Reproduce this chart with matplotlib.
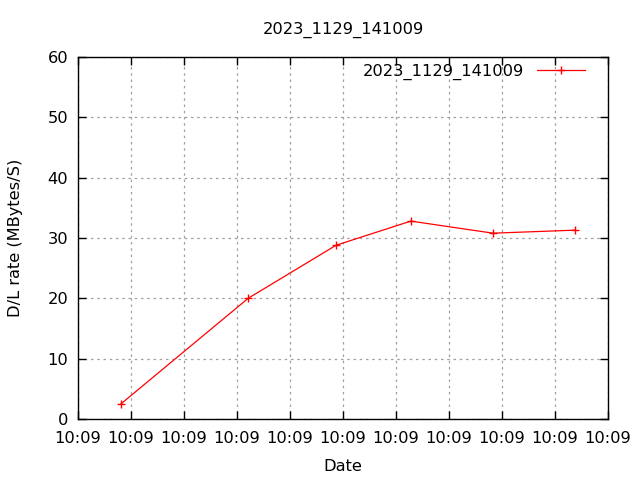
import matplotlib
matplotlib.use("Agg")
import matplotlib.pyplot as plt

title = "2023_1129_141009"
series_name = "2023_1129_141009"
x_values = [0.81, 3.21, 4.87, 6.28, 7.83, 9.38]
y_values = [2.5, 20.0, 28.8, 32.8, 30.8, 31.3]
x_ticks = list(range(11))
x_tick_labels = ["10:09"] * 11
y_ticks = [0, 10, 20, 30, 40, 50, 60]

FS = 11.7
plt.rcParams['font.family'] = ['DejaVu Sans']
fig = plt.figure(figsize=(6.4, 4.8), dpi=100)
ax = fig.add_axes([78/640, 61/480, 530/640, 362/480])
ax.plot(x_values, y_values, color='red', lw=0.9, marker='+', ms=6, mew=1.0, label=series_name)
ax.set_xlim(0, 10)
ax.set_ylim(0, 60)
ax.set_xticks(x_ticks)
ax.set_xticklabels(x_tick_labels)
ax.set_yticks(y_ticks)
ax.tick_params(direction='in', top=True, right=True, length=6, width=1, labelsize=FS, pad=7)
ax.tick_params(axis='x', pad=8.5)
ax.grid(True, color='#a0a0a0', linestyle=(0, (2, 3)), lw=0.9)
for s in ax.spines.values():
    s.set_linewidth(1)
ax.set_xlabel("Date", fontsize=FS, labelpad=9.5)
ax.set_ylabel("D/L rate (MBytes/S)", fontsize=FS, labelpad=17.5)
ax.set_title(title, fontsize=FS, pad=17)
leg = ax.legend(loc='upper right', bbox_to_anchor=(0.969, 1.0), frameon=False, fontsize=FS,
                markerfirst=False, handlelength=2.95, borderaxespad=0, handletextpad=0.8)
fig.savefig("out.png", dpi=100)
